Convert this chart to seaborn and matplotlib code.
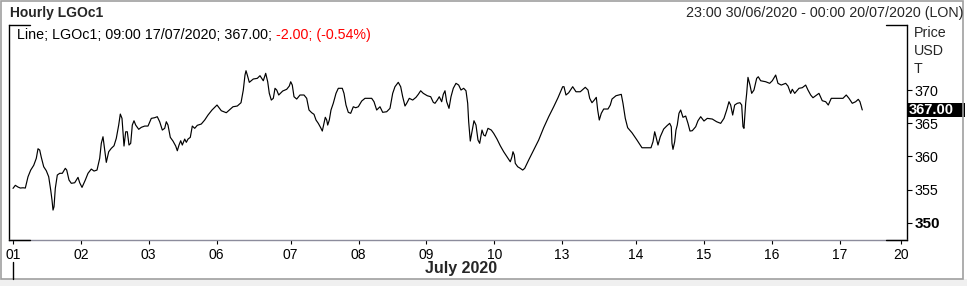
import numpy as np
import pandas as pd
import matplotlib
matplotlib.use("Agg")
import matplotlib.pyplot as plt
import matplotlib.transforms as mtrans
from matplotlib.lines import Line2D
from matplotlib.patches import Rectangle
import seaborn as sns

# ---------------- data ----------------
# hours since 23:00 30/06/2020 (trading hours only, as on the chart's axis)
hours = [
    0.0, 0.75, 1.62, 2.37, 3.24, 3.99, 4.86, 5.74, 6.71, 7.55, 8.10, 8.65, 9.17, 9.95,
    10.79, 11.57, 12.22, 12.64, 12.97, 13.29, 13.71, 14.36, 15.14, 15.98, 16.95, 17.41,
    18.15, 18.90, 20.0, 21.07, 21.62, 22.37, 23.44, 24.31, 25.38, 26.26, 27.23, 28.10,
    28.62, 29.17, 29.72, 30.24, 31.02, 31.86, 32.74, 33.48, 34.26, 34.78, 35.33, 35.98,
    36.53, 37.05, 37.60, 38.15, 38.67, 39.22, 39.77, 40.75, 41.59, 42.69, 43.76, 44.83,
    45.93, 46.77, 47.55, 48.40, 49.17, 49.69, 50.24, 50.99, 51.86, 52.74, 53.26, 53.81,
    54.36, 54.88, 55.66, 56.18, 56.73, 57.47, 58.12, 58.90, 59.74, 61.04, 62.14, 63.21,
    64.51, 66.13, 67.52, 69.14, 71.31, 72.71, 73.91, 74.65, 75.20, 75.53, 75.95, 76.60,
    77.89, 79.19, 80.06, 81.13, 81.91, 82.56, 83.08, 83.73, 84.38, 84.93, 85.48, 86.13,
    87.42, 88.72, 89.56, 90.02, 90.53, 91.09, 91.96, 93.03, 94.33, 95.20, 95.95, 96.82,
    97.57, 98.22, 98.96, 99.74, 100.26, 100.81, 101.23, 101.69, 102.01, 102.53, 103.08,
    103.82, 104.70, 105.45, 106.74, 107.29, 107.94, 108.69, 109.46, 110.31, 111.09,
    111.93, 113.03, 114.10, 116.27, 117.02, 117.89, 118.96, 119.84, 121.13, 122.20,
    123.08, 123.82, 124.89, 125.67, 126.32, 127.07, 127.62, 128.46, 129.56, 130.63,
    131.38, 132.15, 133.00, 134.30, 135.40, 136.24, 136.79, 137.54, 138.18, 138.96,
    139.48, 140.03, 140.58, 141.33, 141.98, 142.72, 143.60, 144.47, 145.22, 146.09,
    146.84, 147.39, 147.71, 148.23, 148.78, 149.43, 150.08, 150.73, 151.28, 152.03,
    152.58, 153.10, 153.97, 155.04, 155.82, 156.89, 157.96, 159.06, 160.13, 161.20,
    161.75, 162.07, 162.50, 162.82, 163.60, 164.44, 165.22, 165.87, 167.16, 168.78,
    170.40, 172.02, 173.65, 175.27, 176.66, 178.18, 178.61, 179.25, 180.13, 181.43,
    182.50, 183.89, 185.51, 186.39, 186.94, 187.68, 188.43, 189.08, 189.53, 190.05,
    190.70, 191.48, 192.87, 193.62, 194.17, 195.46, 197.18, 197.73, 198.48, 199.25,
    200.65, 202.27, 203.89, 206.81, 207.46, 208.01, 208.43, 209.08, 209.82, 210.92,
    211.99, 212.87, 213.39, 213.61, 213.94, 214.49, 214.91, 215.33, 215.88, 216.43,
    217.18, 218.06, 218.80, 219.45, 220.19, 221.30, 222.04, 222.92, 223.99, 225.06,
    226.68, 228.10, 229.40, 230.47, 231.35, 232.09, 232.64, 233.29, 233.94, 234.78,
    235.66, 236.21, 236.63, 236.95, 237.50, 237.83, 238.25, 238.90, 239.45, 240.19,
    241.07, 241.59, 242.36, 243.99, 245.28, 246.13, 247.23, 247.97, 249.04, 250.47,
    251.22, 252.09, 252.61, 253.39, 254.78, 255.85, 256.95, 257.70, 258.58, 259.32,
    260.19, 261.26, 262.33, 263.44, 264.28, 265.25, 266.68, 269.04, 270.11, 270.99,
    272.06, 273.16, 274.00, 274.55, 275.30,
]
prices = [
    355.18, 355.64, 355.38, 355.23, 355.27, 355.23, 356.93, 357.94, 358.65, 359.71, 361.15,
    360.96, 359.86, 358.44, 357.84, 356.93, 354.93, 353.42, 351.91, 352.41, 355.18, 357.19,
    357.45, 357.45, 358.20, 357.94, 356.44, 355.94, 356.03, 356.84, 356.03, 355.33, 356.44,
    357.45, 358.09, 357.79, 357.94, 359.71, 361.97, 362.96, 360.96, 359.10, 360.70, 361.21,
    361.60, 362.72, 364.72, 366.38, 365.73, 361.56, 363.71, 363.71, 361.71, 361.97, 364.72,
    365.37, 364.72, 364.08, 364.38, 364.57, 364.57, 365.73, 365.83, 365.98, 365.22, 363.97,
    364.23, 365.22, 364.72, 362.87, 362.31, 361.56, 360.85, 361.71, 362.36, 361.71, 362.61,
    362.12, 362.61, 362.87, 364.57, 364.23, 364.68, 364.88, 365.48, 366.23, 366.99, 367.74,
    366.88, 366.58, 367.48, 367.59, 368.09, 370.00, 372.26, 372.91, 372.26, 371.16, 371.66,
    371.76, 372.16, 371.40, 372.52, 371.25, 369.50, 368.49, 368.75, 370.26, 370.00, 369.25,
    369.85, 370.11, 370.60, 371.25, 370.75, 368.99, 368.64, 369.25, 369.25, 368.75, 366.99,
    366.58, 366.34, 365.48, 364.98, 364.32, 363.82, 364.98, 365.89, 365.48, 364.72, 365.48,
    366.99, 368.00, 369.50, 370.26, 370.26, 369.50, 367.74, 366.64, 366.49, 367.48, 367.33,
    367.48, 368.34, 368.75, 368.75, 368.24, 366.99, 367.48, 366.64, 366.73, 367.24, 369.50,
    370.50, 371.16, 370.50, 368.99, 367.59, 368.00, 368.75, 368.49, 368.90, 369.35, 369.89,
    369.50, 369.14, 368.99, 368.15, 368.00, 368.49, 368.99, 368.24, 369.35, 369.89, 368.24,
    367.24, 368.99, 370.26, 371.01, 370.75, 370.00, 370.26, 369.89, 368.00, 365.22, 362.31,
    363.71, 365.37, 364.72, 362.46, 361.97, 363.97, 363.22, 363.07, 364.23, 363.97, 363.47,
    362.61, 361.60, 360.70, 359.95, 359.19, 359.95, 360.70, 360.20, 358.95, 358.44, 358.20,
    357.94, 358.20, 359.45, 360.96, 362.46, 364.32, 365.98, 367.48, 368.84, 370.50, 370.50,
    369.25, 369.59, 370.50, 369.74, 369.74, 370.41, 370.00, 368.75, 368.09, 368.49, 368.90,
    366.99, 365.48, 366.49, 367.14, 367.14, 367.74, 368.64, 369.14, 369.35, 368.00, 365.73,
    364.32, 363.56, 362.46, 361.30, 361.30, 362.21, 363.71, 362.96, 361.71, 362.96, 364.12,
    364.62, 364.98, 364.47, 361.97, 361.06, 362.21, 363.97, 364.72, 366.49, 366.99, 365.89,
    366.08, 364.98, 363.82, 363.87, 364.47, 365.37, 365.98, 365.33, 365.73, 365.63, 365.22,
    364.98, 365.73, 366.99, 368.24, 367.74, 366.23, 367.74, 368.00, 368.09, 367.74, 364.47,
    364.23, 368.00, 369.50, 371.91, 370.75, 369.50, 370.00, 371.76, 372.00, 371.40, 371.25,
    371.01, 371.40, 372.26, 371.01, 370.75, 371.01, 370.60, 369.50, 370.11, 369.50, 370.26,
    370.35, 370.75, 370.00, 369.25, 368.84, 369.14, 369.50, 368.39, 368.24, 367.74, 368.75,
    368.75, 368.75, 369.25, 368.75, 368.00, 368.24, 368.60, 368.24, 367.00,
]
day_positions = [0, 22, 44, 66, 90, 112, 134, 156, 178, 202, 224, 246, 268, 288]
day_labels = ["01", "02", "03", "06", "07", "08", "09", "10", "13", "14", "15", "16", "17", "20"]
price_ticks = [350, 355, 360, 365, 370]
price_tick_labels = ["350", "355", "360", "365", "370"]
month_label = "July 2020"
title_left = "Hourly LGOc1"
title_right = "23:00 30/06/2020 - 00:00 20/07/2020 (LON)"
unit_labels = ["Price", "USD", "T"]
last_time = "09:00 17/07/2020"
last_price = 367.00
change = -2.00
change_pct = -0.54

# ---------------- figure ----------------
sns.set_theme(style="white")
plt.rcParams['font.family'] = ['Liberation Sans', 'DejaVu Sans']

W, H = 967, 286
fig = plt.figure(figsize=(W / 100, H / 100), dpi=100)
fig.patch.set_facecolor("white")


def fx(px):
    return px / W


def fy(py):
    return 1 - py / H


# outer frame and bottom band
fig.add_artist(Rectangle((0, 0), 1, fy(279), transform=fig.transFigure,
                         facecolor="#f0f0f0", edgecolor="none", zorder=0))
fig.add_artist(Rectangle((fx(1), fy(279)), fx(963) - fx(1), fy(1) - fy(279),
                         transform=fig.transFigure, facecolor="none",
                         edgecolor="#a0a0a0", lw=1.2, zorder=1))

ax = fig.add_axes([fx(9), fy(240), fx(907) - fx(9), fy(25) - fy(240)])
ax.set_facecolor("white")
df = pd.DataFrame({"t": hours, "price": prices})
sns.lineplot(data=df, x="t", y="price", ax=ax, color="black", lw=0.85,
             sort=False, estimator=None)
ax.set_xlim(-1.3, 289.8)
ax.set_ylim(347.4, 379.8)
ax.set_xlabel("")
ax.set_ylabel("")

# spines
for s in ["left", "right"]:
    ax.spines[s].set_visible(True)
    ax.spines[s].set_color("black")
    ax.spines[s].set_linewidth(1.0)
ax.spines["top"].set_visible(False)
ax.spines["bottom"].set_visible(True)
ax.spines["bottom"].set_color("#8c8c9c")
ax.spines["bottom"].set_linewidth(1.0)
# black corner brackets
cl = 21 / 898
for (x0, x1, y) in [(0, cl, 1), (1 - cl, 1, 1), (0, cl, 0), (1 - cl, 1, 0)]:
    ax.add_artist(Line2D([x0, x1], [y, y], transform=ax.transAxes, color="black",
                         lw=1.0, clip_on=False, zorder=5))

# x axis
ax.set_xticks(day_positions)
ax.set_xticklabels(day_labels)
ax.tick_params(axis="x", bottom=True, top=False, direction="out", length=3,
               width=0.8, color="black", labelsize=10, pad=3, labelcolor="black")

# y axis on the right
ax.yaxis.tick_right()
ax.set_yticks(price_ticks)
ax.set_yticklabels(price_tick_labels)
ax.tick_params(axis="y", right=True, left=False, labelright=True, labelleft=False,
               direction="out", length=3.5, width=0.8, color="black",
               labelsize=10.3, pad=2, labelcolor="black")
for lab in ax.get_yticklabels():
    if lab.get_text() == "350":
        lab.set_fontweight("bold")
        lab.set_fontsize(11)

# last value box
bt = mtrans.blended_transform_factory(ax.transAxes, ax.transData)
box_h = 14 / 6.635
ax.add_patch(Rectangle((1.0, last_price - box_h / 2), 58 / 898, box_h, transform=bt,
                       facecolor="black", edgecolor="none", clip_on=False, zorder=6))
ax.text(1.0 + 2 / 898, last_price, f"{last_price:.2f}", transform=bt, color="white",
        fontsize=10.5, fontweight="bold", va="center", ha="left", zorder=7,
        clip_on=False)

# unit labels
for i, u in enumerate(unit_labels):
    fig.text(fx(914), fy(33 + 18 * i), u, fontsize=10.3, va="center", ha="left")

# header
fig.text(fx(10), fy(13), title_left, fontsize=10, fontweight="bold", va="center", ha="left")
fig.text(fx(964), fy(13), title_right, fontsize=10.3, va="center", ha="right")

# legend line with coloured change
t1 = fig.text(fx(17), fy(35), f"Line; LGOc1; {last_time}; {last_price:.2f}; ",
              fontsize=10.3, va="center", ha="left", color="black")
fig.canvas.draw()
bb = t1.get_window_extent()
fig.text(bb.x1 / W, fy(35), f"{change:.2f}; ({change_pct:.2f}%)",
         fontsize=10.3, va="center", ha="left", color="#ff0000")

# month label and separator
bx = mtrans.blended_transform_factory(ax.transData, fig.transFigure)
fig.add_artist(Line2D([day_positions[0], day_positions[0]], [fy(262), fy(279)],
                      transform=bx, color="black", lw=1.0))
fig.text(fx(461), fy(269), month_label, fontsize=11.5, fontweight="bold",
         va="center", ha="center")

fig.savefig("out.png", dpi=100, facecolor=fig.get_facecolor())
